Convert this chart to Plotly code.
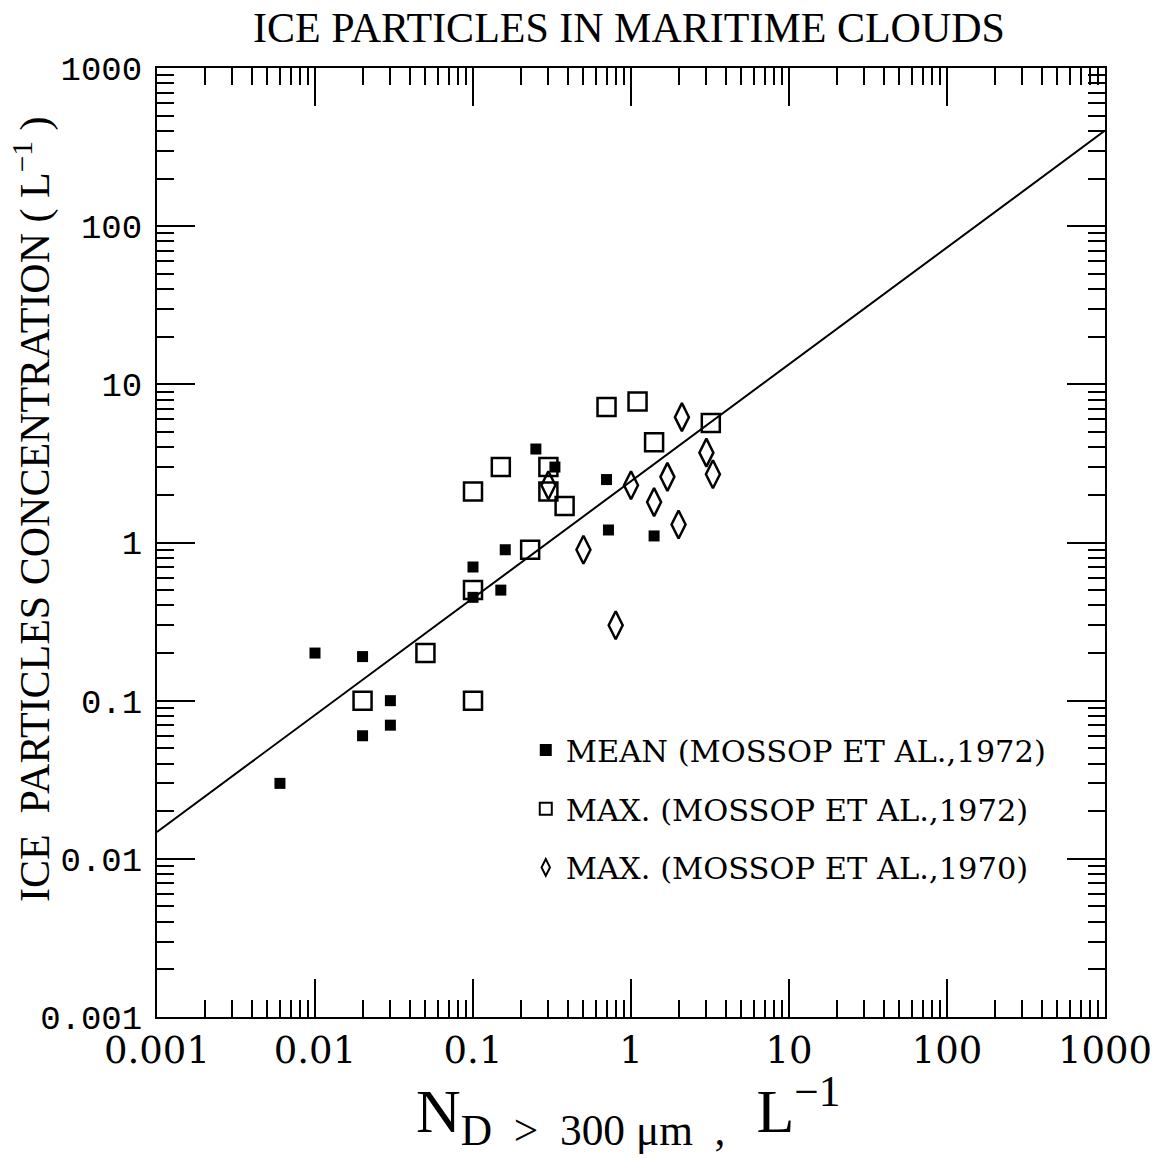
import numpy as np
import plotly.graph_objects as go

# ---- data ----
mean72_x = [0.006, 0.01, 0.02, 0.02, 0.03, 0.03, 0.1, 0.1, 0.15, 0.16, 0.25, 0.33, 0.7, 0.72, 1.4]
mean72_y = [0.03, 0.2, 0.19, 0.06, 0.1, 0.07, 0.7, 0.45, 0.5, 0.9, 3.9, 3.0, 2.5, 1.2, 1.1]

max72_x = [0.02, 0.05, 0.1, 0.1, 0.1, 0.15, 0.23, 0.3, 0.3, 0.38, 0.7, 1.1, 1.4, 3.2]
max72_y = [0.1, 0.2, 0.1, 0.5, 2.1, 3.0, 0.9, 3.0, 2.1, 1.7, 7.2, 7.8, 4.3, 5.7]

max70_x = [0.3, 0.5, 0.8, 1.0, 1.4, 1.7, 2.0, 2.1, 3.0, 3.3]
max70_y = [2.3, 0.9, 0.3, 2.3, 1.8, 2.6, 1.3, 6.2, 3.7, 2.7]

fit_coef = 2.44
fit_exp = 0.739
fit_x = [0.001, 1000]

tick_vals = [0.001, 0.01, 0.1, 1, 10, 100, 1000]
tick_text = ["0.001", "0.01", "0.1", "1", "10", "100", "1000"]

legend_names = ["MEAN (MOSSOP ET AL.,1972)", "MAX. (MOSSOP ET AL.,1972)", "MAX. (MOSSOP ET AL.,1970)"]

fit_y = [fit_coef * v ** fit_exp for v in fit_x]
minor_vals = [m * d for d in tick_vals[:-1] for m in range(2, 10)]

fig = go.Figure()
fig.add_trace(go.Scatter(x=fit_x, y=fit_y, mode="lines", line=dict(color="black", width=2),
                         showlegend=False, hoverinfo="skip"))
fig.add_trace(go.Scatter(x=mean72_x, y=mean72_y, mode="markers", name=legend_names[0],
                         legendgroup="a",
                         marker=dict(symbol="square", size=11, color="black")))
fig.add_trace(go.Scatter(x=max72_x, y=max72_y, mode="markers", name=legend_names[1],
                         legendgroup="b",
                         marker=dict(symbol="square-open", size=18, color="black", line=dict(width=2.5))))
fig.add_trace(go.Scatter(x=max70_x, y=max70_y, mode="markers", name=legend_names[2],
                         legendgroup="c",
                         marker=dict(symbol="diamond-tall-open", size=20, color="black", line=dict(width=2.5))))

axis_common = dict(
    type="log", showgrid=False, zeroline=False, showline=True, linecolor="black", linewidth=2,
    mirror="allticks", ticks="inside", ticklen=38, tickwidth=2, tickcolor="black",
    tickvals=tick_vals, ticktext=tick_text,
    minor=dict(ticks="inside", ticklen=17, tickwidth=1.5, tickcolor="black", showgrid=False,
               tickmode="array", tickvals=minor_vals),
)

fig.update_xaxes(range=[-3, 3], tickfont=dict(family="DejaVu Serif", size=37, color="black"),
                 **axis_common)
fig.update_yaxes(range=[-3, 3], tickfont=dict(family="Liberation Mono", size=34, color="black"),
                 ticklabelstandoff=6, **axis_common)

fig.update_layout(
    width=1164, height=1158,
    margin=dict(l=157, r=53, t=68, b=141),
    plot_bgcolor="white", paper_bgcolor="white",
    showlegend=True,
    legend=dict(x=0.389, y=0.309, xanchor="left", yanchor="top",
                font=dict(family="DejaVu Serif", size=30.5, color="black"),
                itemsizing="constant", traceorder="grouped", tracegroupgap=16,
                bgcolor="rgba(0,0,0,0)", borderwidth=0),
    annotations=[
        dict(text="ICE PARTICLES IN MARITIME CLOUDS", xref="paper", yref="paper",
             x=0.498, y=1.042, xanchor="center", yanchor="middle", showarrow=False,
             font=dict(family="Liberation Serif", size=42, color="black")),
        dict(text="ICE&nbsp;&nbsp;PARTICLES CONCENTRATION&nbsp;(&nbsp;L<sup>−1</sup>&nbsp;)",
             xref="paper", yref="paper",
             x=-0.131, y=0.535, xanchor="center", yanchor="middle", showarrow=False, textangle=-90,
             font=dict(family="Liberation Serif", size=42, color="black")),
        dict(text="N<sub>D&nbsp;&nbsp;&gt;&nbsp;&nbsp;300&nbsp;μm&nbsp;&nbsp;,</sub>&nbsp;&nbsp;L<sup>−1</sup>",
             xref="paper", yref="paper",
             x=0.497, y=-0.098, xanchor="center", yanchor="middle", showarrow=False,
             font=dict(family="Liberation Serif", size=62, color="black")),
    ],
)

fig.write_html("out.html")
